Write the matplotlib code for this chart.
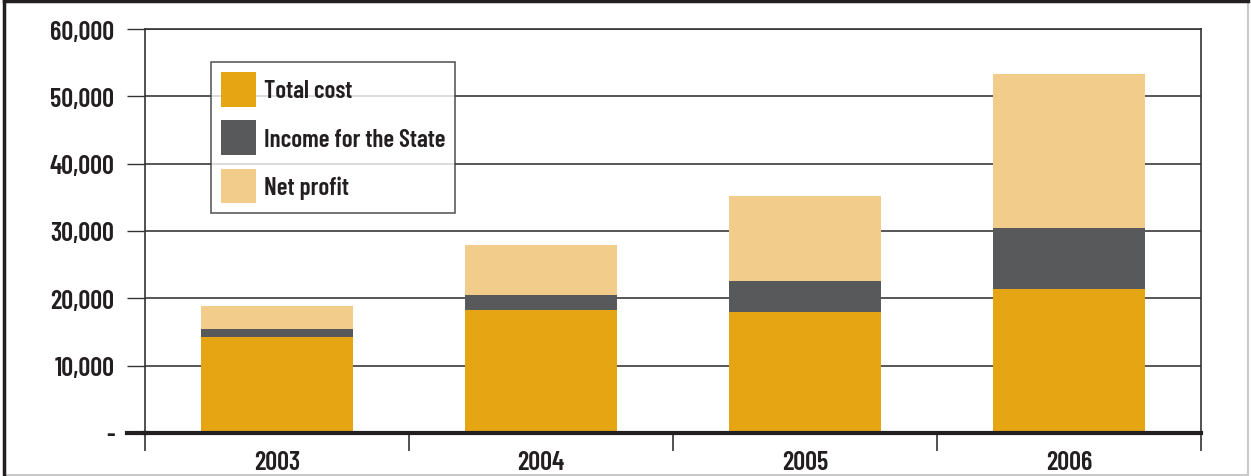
import matplotlib
matplotlib.use("Agg")
import matplotlib.pyplot as plt
import matplotlib.ticker as ticker
from matplotlib.patches import Rectangle, Patch

years = ["2003", "2004", "2005", "2006"]
total_cost = [14300, 18250, 17950, 21400]
income_state = [1150, 2250, 4650, 9000]
net_profit = [3450, 7400, 12600, 22900]
series_names = ["Total cost", "Income for the State", "Net profit"]
colors = ["#E6A614", "#58595B", "#F2CC8B"]

plt.rcParams['font.family'] = ['Barlow Condensed', 'DejaVu Sans']
plt.rcParams['font.weight'] = 600
FS = 19

fig = plt.figure(figsize=(12.51, 4.77), dpi=100)
ax = fig.add_axes([145/1251, 1 - 434/477, (1201 - 145)/1251, (434 - 30)/477])

x = list(range(len(years)))
bottom2 = [a + b for a, b in zip(total_cost, income_state)]
w = 0.576
ax.bar(x, total_cost, width=w, color=colors[0], zorder=2)
ax.bar(x, income_state, width=w, bottom=total_cost, color=colors[1], zorder=2)
ax.bar(x, net_profit, width=w, bottom=bottom2, color=colors[2], zorder=2)

ax.set_xlim(-0.5, len(years) - 0.5)
ax.set_ylim(0, 60000)

# y axis
ax.yaxis.set_major_locator(ticker.MultipleLocator(10000))
ax.yaxis.set_major_formatter(ticker.FuncFormatter(
    lambda v, p: "-" if v == 0 else f"{int(v):,}"))
ax.tick_params(axis='y', direction='out', length=13, width=1, color='#333333',
               labelsize=FS, labelcolor='#231f20', pad=9)
ax.grid(axis='y', color='#3a3a3a', linewidth=1.2, zorder=1)
ax.set_axisbelow(True)

# x axis: labels at centres, separators at edges
ax.set_xticks(x)
ax.set_xticklabels(years)
ax.set_xticks([i - 0.5 for i in range(len(years) + 1)], minor=True)
ax.tick_params(axis='x', which='major', length=0, labelsize=FS,
               labelcolor='#231f20', pad=12)
ax.tick_params(axis='x', which='minor', direction='out', length=13,
               width=1.2, color='#333333')

for s in ['left', 'right', 'top']:
    ax.spines[s].set_color('#333333')
    ax.spines[s].set_linewidth(1.2)
ax.spines['bottom'].set_color('#231f20')
ax.spines['bottom'].set_linewidth(3)
ax.spines['bottom'].set_zorder(3)
# baseline extends left over tick area
ax.plot([-0.57, -0.5], [0, 0], color='#231f20', lw=3, clip_on=False, zorder=3)

handles = [Patch(facecolor=c, edgecolor='none') for c in colors]
leg = ax.legend(handles, series_names, loc='upper left',
                bbox_to_anchor=(66/1056, 1 - 33/404), fontsize=18,
                frameon=True, fancybox=False, edgecolor='#333333',
                handlelength=1.4, handleheight=1.75, handletextpad=0.3,
                labelspacing=0.55, borderpad=0.4, borderaxespad=0)
leg.get_frame().set_linewidth(1.2)
leg.set_zorder(5)
for t in leg.get_texts():
    t.set_color('#231f20')

# figure frame
fig.add_artist(Rectangle((0.003, 0.003), 0.995, 0.993, transform=fig.transFigure,
                         fill=False, edgecolor='#c8c8c8', linewidth=1.5))
fig.add_artist(plt.Line2D([0.003, 0.003], [0.003, 0.997], transform=fig.transFigure,
                          color='#231f20', linewidth=2.5))
fig.add_artist(plt.Line2D([0.003, 0.998], [0.996, 0.996], transform=fig.transFigure,
                          color='#231f20', linewidth=2.5))

fig.savefig("out.png", dpi=100)
